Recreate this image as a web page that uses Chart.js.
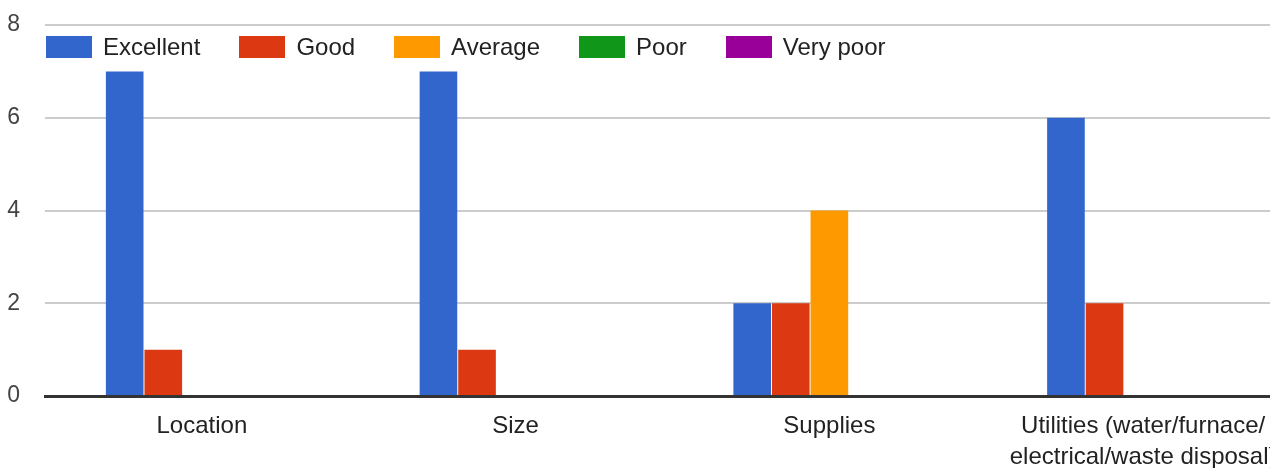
<!DOCTYPE html>
<html>
<head>
<meta charset="utf-8">
<script src="https://cdn.jsdelivr.net/npm/chart.js@4/dist/chart.umd.min.js"></script>
<style>
  html, body { margin: 0; padding: 0; overflow: hidden; background: #fff; width: 1270px; height: 468px; }
  #wrap { position: relative; width: 1300px; height: 468px; }
  #legend { position: absolute; top: 36px; left: 46px; display: flex; align-items: center; height: 22px;
            font-family: "Liberation Sans", Arial, sans-serif; font-size: 24px; color: #222; }
  .item { display: flex; align-items: center; margin-right: 39px; }
  .box { width: 46px; height: 22px; margin-right: 11px; }
</style>
</head>
<body>
<div id="wrap">
  <canvas id="c"></canvas>
  <div id="legend"></div>
</div>
<script>
const categories = ["Location", "Size", "Supplies", ["Utilities (water/furnace/", "electrical/waste disposal)"]];
const seriesNames = ["Excellent", "Good", "Average", "Poor", "Very poor"];
const excellent = [7, 7, 2, 6];
const good = [1, 1, 2, 2];
const average = [0, 0, 4, 0];
const poor = [0, 0, 0, 0];
const veryPoor = [0, 0, 0, 0];
const yTicks = [0, 2, 4, 6, 8];
const colors = ["#3366cc", "#dc3912", "#ff9900", "#109618", "#990099"];

const seriesValues = [excellent, good, average, poor, veryPoor];

const legend = document.getElementById('legend');
seriesNames.forEach((n, i) => {
  const it = document.createElement('div');
  it.className = 'item';
  const b = document.createElement('div');
  b.className = 'box';
  b.style.background = colors[i];
  const t = document.createElement('span');
  t.textContent = n;
  it.appendChild(b); it.appendChild(t);
  legend.appendChild(it);
});

new Chart(document.getElementById('c'), {
  type: 'bar',
  data: {
    labels: categories,
    datasets: seriesNames.map((n, i) => ({
      label: n,
      data: seriesValues[i],
      backgroundColor: colors[i],
      borderWidth: 0,
      categoryPercentage: 0.615,
      barPercentage: 0.975
    }))
  },
  options: {
    responsive: true,
    maintainAspectRatio: false,
    animation: false,
    layout: { padding: { top: 25, right: 0, bottom: 0, left: 0 } },
    plugins: { legend: { display: false }, tooltip: { enabled: false } },
    scales: {
      x: {
        z: 1,
        grid: { display: false, drawTicks: false },
        border: { display: true, color: '#333333', width: 3 },
        ticks: {
          color: '#222',
          font: { family: '"Liberation Sans", Arial, sans-serif', size: 24, lineHeight: 1.29 },
          padding: 15,
          maxRotation: 0,
          autoSkip: false
        },
        afterFit: (s) => { s.height = 72; s.paddingLeft = 0; s.paddingRight = 0; }
      },
      y: {
        min: 0, max: 8,
        afterBuildTicks: (s) => { s.ticks = yTicks.map(v => ({ value: v })); },
        grid: { color: '#cccccc', lineWidth: 2, drawTicks: false },
        border: { display: false },
        ticks: {
          color: '#444',
          font: { family: '"Liberation Sans", Arial, sans-serif', size: 23 },
          padding: 25
        },
        afterFit: (s) => { s.width = 45; s.paddingTop = 0; s.paddingBottom = 0; }
      }
    }
  }
});
</script>
</body>
</html>
